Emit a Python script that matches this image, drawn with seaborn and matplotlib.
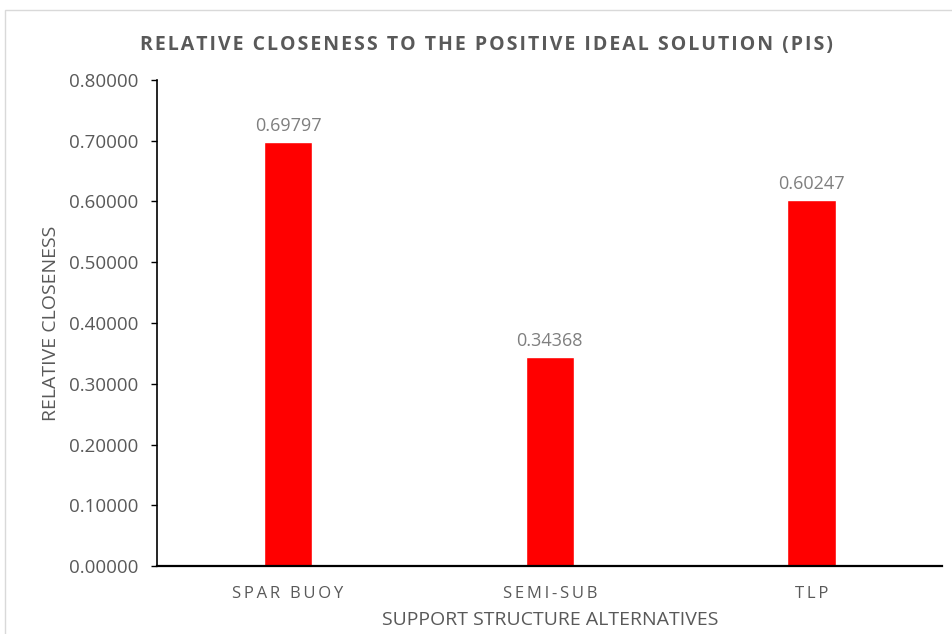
import matplotlib
matplotlib.use('Agg')
import matplotlib.pyplot as plt
import seaborn as sns
import pandas as pd
from matplotlib.patches import Rectangle

# chart values
alternatives = ['SPAR BUOY', 'SEMI-SUB', 'TLP']
closeness = [0.69797, 0.34368, 0.60247]
yticks = [0.0, 0.1, 0.2, 0.3, 0.4, 0.5, 0.6, 0.7, 0.8]
title = 'RELATIVE CLOSENESS TO THE POSITIVE IDEAL SOLUTION (PIS)'

data = pd.DataFrame({'Alternative': alternatives, 'Closeness': closeness})


def spaced(s, gap):
    # letter spacing like the original, done with narrow space characters
    return gap.join(s)


sns.set_style('white')
plt.rcParams['font.family'] = ['Open Sans', 'DejaVu Sans']

fig = plt.figure(figsize=(9.52, 6.34), dpi=100)
ax = fig.add_axes([0.165, 0.107, 0.825, 0.767])

sns.barplot(x='Alternative', y='Closeness', data=data, color='#FF0000',
            width=0.185, saturation=1, ax=ax)

# value labels above bars
for i, v in enumerate(closeness):
    ax.text(i, v + 0.012, f'{v:.5f}', ha='center', va='bottom',
            fontsize=13, color='#7F7F7F')

ax.set_ylim(0, 0.8)
ax.set_xlim(-0.5, 2.5)
ax.set_yticks(yticks)
ax.set_yticklabels([f'{t:.5f}' for t in yticks], fontsize=13.5, color='#595959')
ax.set_xticks(range(len(alternatives)))
ax.set_xticklabels([spaced(a, '\u2009') for a in alternatives], fontsize=12,
                   color='#595959')
ax.tick_params(axis='x', length=0, pad=14)
ax.tick_params(axis='y', length=4.3, width=1, color='black', left=True, pad=9.5)

for s in ['top', 'right']:
    ax.spines[s].set_visible(False)
ax.spines['left'].set_color('black')
ax.spines['bottom'].set_color('black')
ax.spines['left'].set_linewidth(1.2)
ax.spines['bottom'].set_linewidth(1.6)

ax.set_xlabel('SUPPORT STRUCTURE ALTERNATIVES', fontsize=14, color='#595959',
              labelpad=7)
ax.set_ylabel('RELATIVE CLOSENESS', fontsize=14, color='#595959', labelpad=6)

fig.text(0.511, 0.929, spaced(title, '\u200a'),
         ha='center', va='center', fontsize=14, fontweight='bold', color='#595959')

# light frame around the chart area
fig.patches.append(Rectangle((0.005, -0.01), 1.0, 0.995, transform=fig.transFigure,
                             fill=False, edgecolor='#D9D9D9', linewidth=1))

plt.savefig('out.png', dpi=100)
